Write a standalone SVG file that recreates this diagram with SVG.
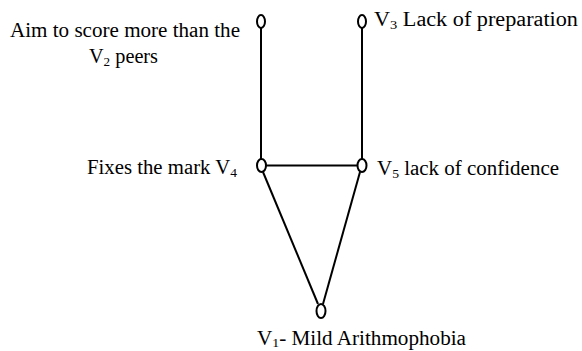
<svg xmlns="http://www.w3.org/2000/svg" width="582" height="351" viewBox="0 0 582 351">
<style>
  .lbl { font-family: "Liberation Serif", "Times New Roman", serif; font-size: 20px; fill: #000; }
  .sub { font-size: 13px; }
  .node { fill: #fff; stroke: #000; stroke-width: 2; }
  .edge { stroke: #000; stroke-width: 2; fill: none; }
</style>
<rect width="582" height="351" fill="#fff"/>
<g id="connectors">
  <line class="edge" x1="261" y1="28" x2="261" y2="159"/>
  <line class="edge" x1="362" y1="28" x2="362" y2="159"/>
  <line class="edge" x1="266" y1="165.5" x2="357" y2="165.5"/>
  <line class="edge" x1="263" y1="172" x2="318" y2="304"/>
  <line class="edge" x1="360" y1="172" x2="323" y2="304"/>
</g>
<g id="V2">
  <ellipse class="node" cx="261" cy="21.5" rx="4" ry="6.5"/>
  <text class="lbl" x="10" y="37" textLength="230" lengthAdjust="spacingAndGlyphs">Aim to score more than the</text>
  <text class="lbl" x="89" y="63" textLength="69" lengthAdjust="spacingAndGlyphs">V<tspan class="sub" dy="3">2</tspan><tspan dy="-3"> peers</tspan></text>
</g>
<g id="V3">
  <ellipse class="node" cx="362" cy="21.5" rx="4" ry="6.5"/>
  <text class="lbl" x="374" y="26" textLength="204" lengthAdjust="spacingAndGlyphs">V<tspan class="sub" dy="3">3</tspan><tspan dy="-3"> Lack of preparation</tspan></text>
</g>
<g id="V4">
  <ellipse class="node" cx="261.5" cy="165.5" rx="4.5" ry="6.5"/>
  <text class="lbl" x="87" y="174" textLength="150" lengthAdjust="spacingAndGlyphs">Fixes the mark V<tspan class="sub" dy="3">4</tspan></text>
</g>
<g id="V5">
  <ellipse class="node" cx="362" cy="165.5" rx="4.5" ry="6.5"/>
  <text class="lbl" x="377" y="175" textLength="182" lengthAdjust="spacingAndGlyphs">V<tspan class="sub" dy="3">5</tspan><tspan dy="-3"> lack of confidence</tspan></text>
</g>
<g id="V1">
  <ellipse class="node" cx="321" cy="311" rx="4.5" ry="7"/>
  <text class="lbl" x="257" y="345" textLength="209" lengthAdjust="spacingAndGlyphs">V<tspan class="sub" dy="2">1</tspan><tspan dy="-2">- Mild Arithmophobia</tspan></text>
</g>
</svg>
